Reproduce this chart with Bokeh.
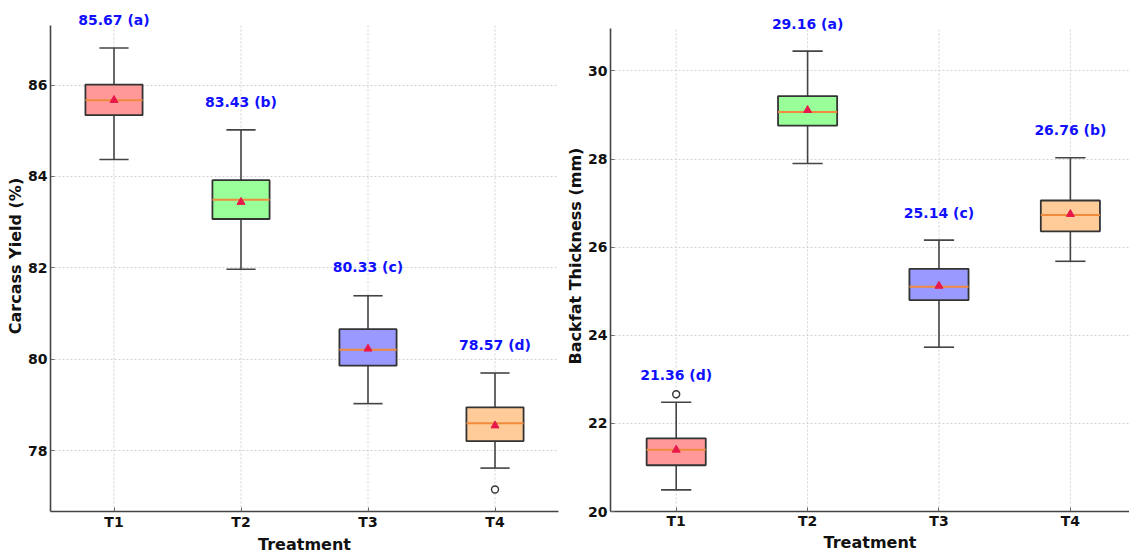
from bokeh.plotting import figure
from bokeh.layouts import row
from bokeh.models import ColumnDataSource, LabelSet, Range1d, FixedTicker
from bokeh.core.properties import value
from bokeh.embed import file_html
from bokeh.resources import INLINE

treatments = ["T1", "T2", "T3", "T4"]
positions = [1, 2, 3, 4]
box_colors = ["#FF9999", "#99FF99", "#9999FF", "#FFCC99"]

# Carcass yield (%)
cy_low = [84.37, 81.97, 79.03, 77.62]
cy_q1 = [85.34, 83.07, 79.86, 78.21]
cy_med = [85.67, 83.49, 80.21, 78.60]
cy_q3 = [86.01, 83.92, 80.66, 78.95]
cy_high = [86.81, 85.02, 81.39, 79.70]
cy_mean = [85.67, 83.44, 80.23, 78.55]
cy_labels = ["85.67 (a)", "83.43 (b)", "80.33 (c)", "78.57 (d)"]
cy_out_x = [4]
cy_out_y = [77.15]

# Backfat thickness (mm)
bf_low = [20.49, 27.90, 23.73, 25.68]
bf_q1 = [21.05, 28.76, 24.80, 26.36]
bf_med = [21.40, 29.07, 25.10, 26.73]
bf_q3 = [21.66, 29.43, 25.51, 27.06]
bf_high = [22.48, 30.45, 26.16, 28.03]
bf_mean = [21.40, 29.11, 25.12, 26.75]
bf_labels = ["21.36 (d)", "29.16 (a)", "25.14 (c)", "26.76 (b)"]
bf_out_x = [1]
bf_out_y = [22.66]

FONT = "DejaVu Sans"
BOX_W = 0.45
CAP_W = 0.23
LABEL_OFF = 0.62
GRID = "#d2d2d2"


def make_panel(width, ymin, yaxis_top, yframe_top, yticks, ylabel, low, q1, med, q3,
               high, mean, labels, out_x, out_y, xend, bl, br, bb, xstand):
    p = figure(width=width, height=556, output_backend="svg", toolbar_location=None,
               x_range=Range1d(0.5, xend), y_range=Range1d(ymin, yframe_top),
               min_border_left=bl, min_border_right=br, min_border_top=0,
               min_border_bottom=bb)
    p.outline_line_color = None
    src = ColumnDataSource(dict(
        x=positions, low=low, q1=q1, med=med, q3=q3, high=high, mean=mean,
        color=box_colors, label=labels,
        xl=[v - CAP_W / 2 for v in positions], xr=[v + CAP_W / 2 for v in positions],
        bl=[v - BOX_W / 2 for v in positions], br=[v + BOX_W / 2 for v in positions],
        ly=[h + LABEL_OFF for h in high],
        g0=[ymin] * 4, g1=[yaxis_top] * 4))
    # vertical grid lines (stop at the top of the axis)
    p.segment(x0="x", y0="g0", x1="x", y1="g1", source=src, line_color=GRID,
              line_width=1, line_dash="2 2")
    # whiskers
    p.segment(x0="x", y0="q3", x1="x", y1="high", source=src, line_color="#444444", line_width=1.6)
    p.segment(x0="x", y0="q1", x1="x", y1="low", source=src, line_color="#444444", line_width=1.6)
    p.segment(x0="xl", y0="high", x1="xr", y1="high", source=src, line_color="#444444", line_width=1.6)
    p.segment(x0="xl", y0="low", x1="xr", y1="low", source=src, line_color="#444444", line_width=1.6)
    # boxes
    p.vbar(x="x", width=BOX_W, top="q3", bottom="q1", source=src, fill_color="color",
           fill_alpha=1.0, line_color="#333333", line_width=1.8)
    # medians
    p.segment(x0="bl", y0="med", x1="br", y1="med", source=src, line_color="#F08A3C", line_width=2)
    # means
    p.scatter(x="x", y="mean", source=src, marker="triangle", size=8,
              fill_color="#E8194A", line_color="#E8194A")
    # outliers
    p.scatter(x=out_x, y=out_y, marker="circle", size=7, fill_color="white",
              line_color="#333333", line_width=1.4)
    p.add_layout(LabelSet(x="x", y="ly", text="label", source=src, text_align="center",
                          text_baseline="middle", text_color="#1010FF",
                          text_font=value(FONT), text_font_style="bold",
                          text_font_size="14px"))
    p.xaxis.ticker = FixedTicker(ticks=positions)
    p.xaxis.major_label_overrides = {pos: t for pos, t in zip(positions, treatments)}
    p.yaxis.ticker = FixedTicker(ticks=yticks)
    p.yaxis.bounds = (ymin, yaxis_top)
    p.xaxis.axis_label = "Treatment"
    p.yaxis.axis_label = ylabel
    for ax in (p.xaxis[0], p.yaxis[0]):
        ax.axis_line_color = "#444444"
        ax.axis_line_width = 1.6
        ax.major_tick_in = 4
        ax.major_tick_out = 0
        ax.major_tick_line_color = "#666666"
        ax.minor_tick_line_color = None
        ax.major_label_text_font = FONT
        ax.major_label_text_font_style = "bold"
        ax.major_label_text_font_size = "14px"
        ax.major_label_text_color = "#111111"
        ax.axis_label_text_font = FONT
        ax.axis_label_text_font_style = "bold"
        ax.axis_label_text_font_size = "16px"
        ax.axis_label_text_color = "#111111"
    p.xaxis.major_label_standoff = xstand
    p.xaxis.axis_label_standoff = xstand
    p.yaxis.major_label_standoff = 3
    p.yaxis.axis_label_standoff = 0
    p.xgrid.grid_line_color = None
    p.ygrid.grid_line_color = GRID
    p.ygrid.grid_line_dash = "2 2"
    p.ygrid.grid_line_width = 1
    return p


p1 = make_panel(561, 76.67, 87.3, 87.85, [78, 80, 82, 84, 86], "Carcass Yield (%)",
                cy_low, cy_q1, cy_med, cy_q3, cy_high, cy_mean, cy_labels,
                cy_out_x, cy_out_y, 4.5, 50, 3, 45, 2)
p2 = make_panel(568, 20, 30.97, 31.6, [20, 22, 24, 26, 28, 30], "Backfat Thickness (mm)",
                bf_low, bf_q1, bf_med, bf_q3, bf_high, bf_mean, bf_labels,
                bf_out_x, bf_out_y, 4.45, 49, 0, 43, 1)

layout = row(p1, p2)
open("out.html", "w").write(file_html(layout, INLINE))
